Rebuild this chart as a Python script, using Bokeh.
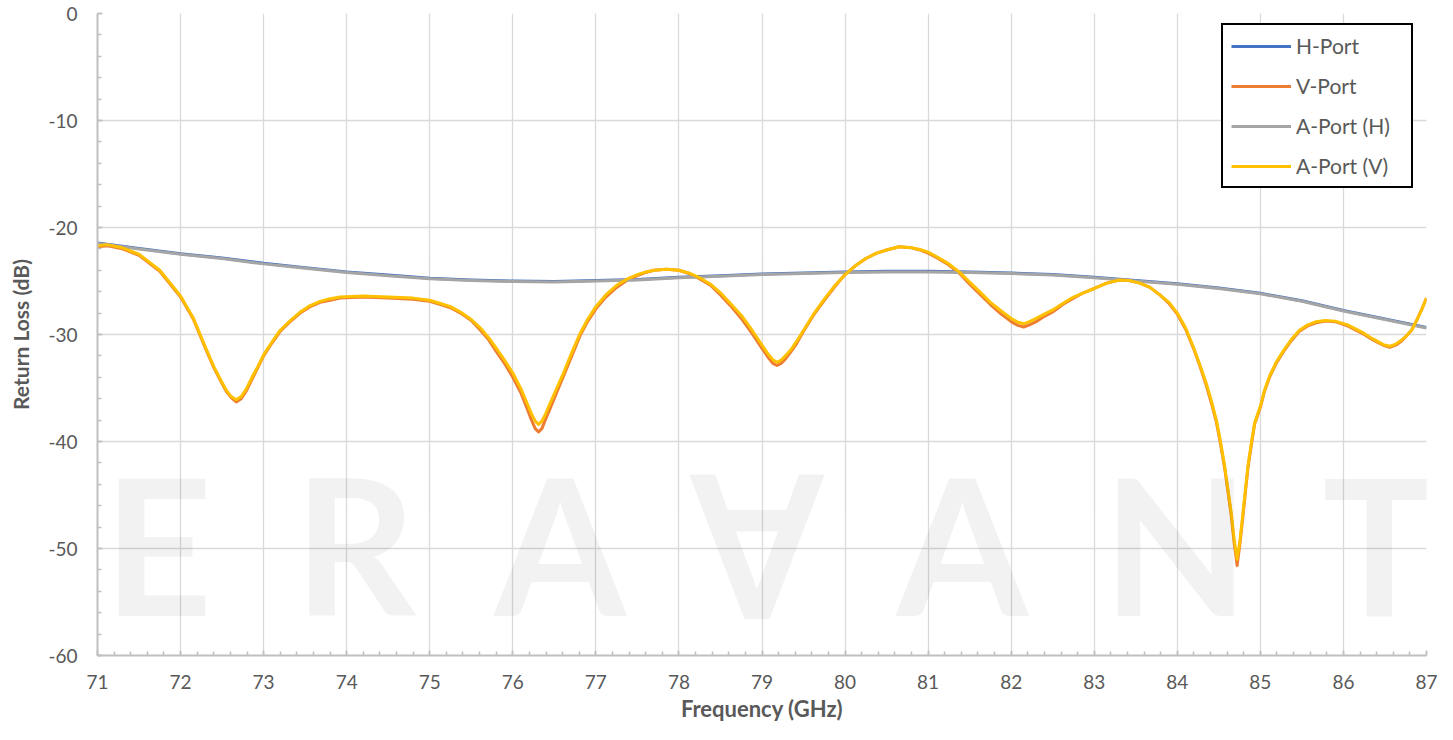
from bokeh.plotting import figure
from bokeh.models import Range1d, SingleIntervalTicker, Legend, LegendItem, Label
from bokeh.embed import file_html
from bokeh.resources import INLINE

# ---- data ----
freq_h = [71.0, 71.5, 72.0, 72.5, 73.0, 73.5, 74.0, 74.5, 75.0, 75.5, 76.0, 76.5,
          77.0, 77.5, 78.0, 78.5, 79.0, 79.5, 80.0, 80.5, 81.0, 81.5, 82.0, 82.5,
          83.0, 83.5, 84.0, 84.5, 85.0, 85.5, 86.0, 86.5, 87.0]
h_port = [-21.45, -21.95, -22.45, -22.85, -23.35, -23.75, -24.15, -24.45, -24.75, -24.9, -25.0, -25.05,
          -24.95, -24.85, -24.65, -24.5, -24.35, -24.25, -24.15, -24.1, -24.1, -24.15, -24.25, -24.4,
          -24.65, -24.95, -25.25, -25.65, -26.15, -26.85, -27.75, -28.55, -29.35]
a_port_h = [-21.5, -22.0, -22.5, -22.9, -23.4, -23.8, -24.2, -24.5, -24.8, -24.95, -25.05, -25.1,
            -25.0, -24.9, -24.7, -24.55, -24.4, -24.3, -24.2, -24.15, -24.15, -24.2, -24.3, -24.45,
            -24.7, -25.0, -25.3, -25.7, -26.2, -26.9, -27.8, -28.6, -29.4]

freq_v = [71.0, 71.12, 71.3, 71.5, 71.75, 72.0, 72.15, 72.3, 72.4, 72.48,
          72.55, 72.61, 72.67, 72.73, 72.79, 72.86, 72.93, 73.0, 73.1, 73.2,
          73.32, 73.44, 73.56, 73.68, 73.8, 73.92, 74.2, 74.5, 74.8, 75.0,
          75.13, 75.25, 75.37, 75.5, 75.61, 75.71, 75.81, 75.9, 76.0, 76.1,
          76.17, 76.23, 76.27, 76.31, 76.35, 76.39, 76.45, 76.53, 76.61, 76.71,
          76.81, 76.9, 77.0, 77.12, 77.25, 77.38, 77.5, 77.6, 77.7, 77.85,
          78.0, 78.12, 78.25, 78.38, 78.5, 78.62, 78.75, 78.88, 79.0, 79.08,
          79.13, 79.18, 79.23, 79.28, 79.35, 79.42, 79.5, 79.62, 79.75, 79.88,
          80.0, 80.12, 80.25, 80.38, 80.5, 80.65, 80.8, 80.9, 81.0, 81.12,
          81.25, 81.38, 81.5, 81.62, 81.75, 81.88, 82.0, 82.08, 82.15, 82.22,
          82.3, 82.4, 82.5, 82.62, 82.75, 82.87, 83.0, 83.15, 83.3, 83.42,
          83.55, 83.67, 83.79, 83.9, 84.0, 84.1, 84.19, 84.27, 84.35, 84.41,
          84.47, 84.52, 84.57, 84.61, 84.65, 84.685, 84.72, 84.755, 84.79, 84.82,
          84.85, 84.89, 84.93, 85.0, 85.05, 85.11, 85.19, 85.27, 85.37, 85.47,
          85.57, 85.67, 85.78, 85.9, 86.05, 86.15, 86.25, 86.33, 86.4, 86.48,
          86.56, 86.63, 86.7, 86.75, 86.82, 86.88, 86.94, 87.0]
a_port_v = [-21.7, -21.6, -21.9, -22.5, -24.0, -26.4, -28.4, -31.2, -33.0, -34.2,
            -35.2, -35.8, -36.1, -35.8, -35.1, -34.0, -33.0, -31.9, -30.7, -29.6,
            -28.7, -27.9, -27.3, -26.9, -26.65, -26.5, -26.4, -26.5, -26.6, -26.8,
            -27.1, -27.4, -27.9, -28.6, -29.4, -30.3, -31.4, -32.4, -33.6, -35.1,
            -36.4, -37.5, -38.1, -38.4, -38.1, -37.5, -36.4, -35.0, -33.6, -31.7,
            -29.9, -28.6, -27.4, -26.3, -25.4, -24.8, -24.4, -24.15, -24.0, -23.9,
            -24.0, -24.25, -24.7, -25.3, -26.1, -27.1, -28.2, -29.6, -31.0, -31.9,
            -32.35, -32.6, -32.4, -32.0, -31.4, -30.6, -29.6, -28.1, -26.7, -25.4,
            -24.4, -23.6, -22.9, -22.4, -22.1, -21.8, -21.9, -22.05, -22.3, -22.8,
            -23.4, -24.2, -25.1, -26.0, -27.0, -27.8, -28.5, -28.85, -29.0, -28.8,
            -28.5, -28.1, -27.7, -27.1, -26.5, -26.1, -25.7, -25.2, -24.9, -24.95,
            -25.2, -25.6, -26.3, -27.0, -28.0, -29.4, -31.1, -32.8, -34.6, -36.2,
            -38.0, -40.0, -42.3, -44.5, -46.7, -49.2, -51.0, -49.2, -46.7, -44.5,
            -42.3, -40.2, -38.3, -36.7, -35.2, -33.9, -32.6, -31.6, -30.5, -29.6,
            -29.1, -28.8, -28.7, -28.75, -29.1, -29.5, -29.9, -30.3, -30.6, -30.95,
            -31.1, -30.9, -30.5, -30.2, -29.6, -28.7, -27.7, -26.6]
v_port = [-21.8, -21.7, -22.0, -22.6, -24.1, -26.5, -28.5, -31.3, -33.1, -34.3,
          -35.3, -35.9, -36.3, -36.0, -35.3, -34.2, -33.1, -32.0, -30.8, -29.7,
          -28.8, -28.0, -27.4, -27.0, -26.8, -26.6, -26.5, -26.6, -26.7, -26.9,
          -27.2, -27.5, -28.0, -28.7, -29.6, -30.5, -31.7, -32.7, -34.0, -35.5,
          -36.9, -38.1, -38.8, -39.1, -38.8, -38.0, -36.9, -35.4, -33.9, -32.0,
          -30.1, -28.8, -27.6, -26.5, -25.6, -24.9, -24.5, -24.2, -24.0, -23.9,
          -24.0, -24.3, -24.8, -25.4, -26.3, -27.3, -28.5, -29.9, -31.3, -32.2,
          -32.7, -32.9, -32.7, -32.3, -31.6, -30.8, -29.7, -28.2, -26.8, -25.5,
          -24.4, -23.6, -22.9, -22.4, -22.1, -21.8, -21.9, -22.1, -22.4, -22.9,
          -23.5, -24.3, -25.3, -26.2, -27.2, -28.1, -28.8, -29.15, -29.3, -29.1,
          -28.8, -28.3, -27.9, -27.2, -26.6, -26.1, -25.7, -25.2, -24.9, -24.95,
          -25.2, -25.6, -26.3, -27.1, -28.1, -29.5, -31.2, -32.9, -34.8, -36.4,
          -38.2, -40.2, -42.5, -44.7, -47.0, -49.5, -51.6, -49.5, -47.0, -44.7,
          -42.5, -40.4, -38.4, -36.8, -35.3, -34.0, -32.7, -31.7, -30.6, -29.7,
          -29.2, -28.9, -28.75, -28.8, -29.2, -29.6, -30.0, -30.4, -30.7, -31.0,
          -31.2, -31.0, -30.6, -30.2, -29.6, -28.7, -27.7, -26.6]

series_names = ["H-Port", "V-Port", "A-Port (H)", "A-Port (V)"]
y_tick_values = [0, -10, -20, -30, -40, -50, -60]
y_tick_labels = ["0", "-10", "-20", "-30", "-40", "-50", "-60"]

# watermark (decorative) letters and their horizontal placement in GHz units
wm_letters = ["E", "R", "A", "\u2200", "A", "N", "T"]
wm_pos = [71.73, 74.10, 76.57, 78.94, 81.41, 83.98, 86.43]

FONT = "Lato"
TXT = "#595959"

p = figure(width=1437, height=724, output_backend="svg", toolbar_location=None,
           x_range=Range1d(71, 87), y_range=Range1d(-60, 0),
           min_border_left=97, min_border_right=11, min_border_top=13, min_border_bottom=68)
p.outline_line_color = None
p.background_fill_color = "white"
p.border_fill_color = "white"

p.xaxis.ticker = SingleIntervalTicker(interval=1, num_minor_ticks=5)
p.yaxis.ticker = SingleIntervalTicker(interval=10, num_minor_ticks=5)
p.yaxis.major_label_overrides = dict(zip(y_tick_values, y_tick_labels))

for ax in (p.xaxis[0], p.yaxis[0]):
    ax.axis_line_color = "#bfbfbf"
    ax.axis_line_width = 2
    ax.major_tick_line_color = "#bfbfbf"
    ax.minor_tick_line_color = "#bfbfbf"
    ax.major_tick_line_width = 1.5
    ax.minor_tick_line_width = 1.5
    ax.major_tick_in = 5
    ax.major_tick_out = 0
    ax.minor_tick_in = 4
    ax.minor_tick_out = 0
    ax.major_label_text_font = FONT
    ax.major_label_text_font_size = "19px"
    ax.major_label_text_color = TXT
    ax.axis_label_text_font = FONT
    ax.axis_label_text_font_style = "bold"
    ax.axis_label_text_color = TXT

p.xaxis.axis_label = "Frequency (GHz)"
p.yaxis.axis_label = "Return Loss (dB)"
p.xaxis.axis_label_text_font_size = "22px"
p.yaxis.axis_label_text_font_size = "21px"
p.xaxis.major_label_standoff = 19
p.yaxis.major_label_standoff = 20
p.xaxis.axis_label_standoff = 3
p.yaxis.axis_label_standoff = 12

p.xgrid.grid_line_color = "#d9d9d9"
p.ygrid.grid_line_color = "#d9d9d9"
p.xgrid.grid_line_width = 1.3
p.ygrid.grid_line_width = 1.3

# faint watermark, kept wholly inside the plot area
for letter, xx in zip(wm_letters, wm_pos):
    p.add_layout(Label(x=xx, y=-60, text=letter, text_align="center",
                       text_baseline="bottom", text_font=FONT, text_font_style="bold",
                       text_font_size="190px", text_color="black", text_alpha=0.05))

r_h = p.line(freq_h, h_port, line_color="#4472C4", line_width=3, line_join="round")
r_v = p.line(freq_v, v_port, line_color="#ED7D31", line_width=3, line_join="round")
r_ah = p.line(freq_h, a_port_h, line_color="#A5A5A5", line_width=3, line_join="round")
r_av = p.line(freq_v, a_port_v, line_color="#FFC000", line_width=3, line_join="round")

legend = Legend(items=[LegendItem(label=n, renderers=[r]) for n, r in
                       zip(series_names, [r_h, r_v, r_ah, r_av])],
                location=(1124, 467))
legend.border_line_color = "black"
legend.border_line_width = 2
legend.border_line_alpha = 1
legend.background_fill_color = "white"
legend.background_fill_alpha = 1
legend.padding = 8
legend.spacing = 15
legend.margin = 0
legend.glyph_height = 22
legend.glyph_width = 60
legend.label_height = 22
legend.label_width = 107
legend.label_standoff = 5
legend.label_text_font = FONT
legend.label_text_font_size = "21px"
legend.label_text_color = TXT
p.add_layout(legend, "center")

open("out.html", "w").write(file_html(p, INLINE))
